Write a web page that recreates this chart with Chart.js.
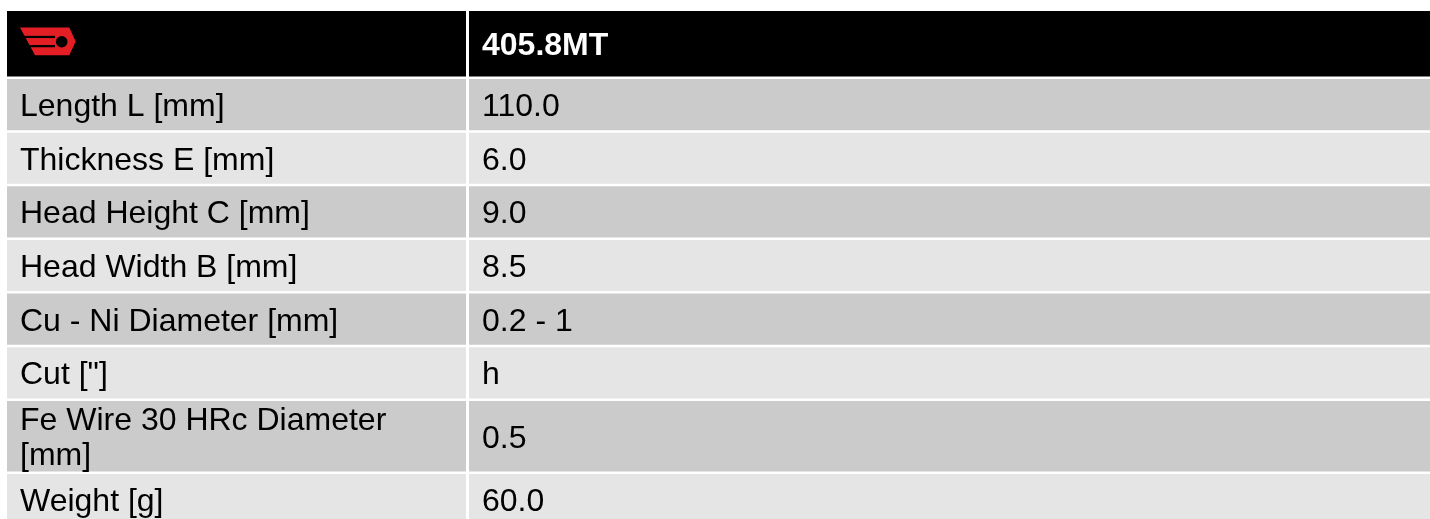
<!DOCTYPE html>
<html>
<head>
<meta charset="utf-8">
<script src="https://cdn.jsdelivr.net/npm/chart.js@4.4.1/dist/chart.umd.min.js"></script>
<style>
  html, body { margin: 0; padding: 0; background: #fff; overflow: hidden; }
  canvas { display: block; }
</style>
</head>
<body>
<canvas id="specChart" width="1430" height="519"></canvas>
<script>
const headerLabel = '405.8MT';
const parameters = [
  'Length L [mm]',
  'Thickness E [mm]',
  'Head Height C [mm]',
  'Head Width B [mm]',
  'Cu - Ni Diameter [mm]',
  'Cut ["]',
  ['Fe Wire 30 HRc Diameter', '[mm]'],
  'Weight [g]'
];
const values = ['110.0', '6.0', '9.0', '8.5', '0.2 - 1', 'h', '0.5', '60.0'];

// layout of the table, in canvas pixels
const W = 1430, H = 519;
const TABLE_LEFT = 7, TABLE_TOP = 11, TABLE_RIGHT = 1445;
const COL_SPLIT = 467.5;
const GAP_X = 3, GAP_Y = 2.5;
const HEADER_PITCH = 68, ROW_PITCH = 53.65, LINE_H = 35;
const PAD_X = 13;
const FONT_SIZE = 32;
const FONT_FAMILY = '"Liberation Sans", Arial, Helvetica, sans-serif';
const ROW_COLORS = ['#cbcbcb', '#e5e5e5'];
const LOGO_RED = '#e31e24';

const rows = [{ texts: [null, headerLabel], color: '#000000', header: true, pitch: HEADER_PITCH }];
parameters.forEach((p, i) => {
  const lines = Array.isArray(p) ? p.length : 1;
  rows.push({
    texts: [p, values[i]],
    color: ROW_COLORS[i % 2],
    header: false,
    pitch: lines > 1 ? lines * LINE_H + 3 : ROW_PITCH
  });
});

let rowTop = TABLE_TOP;
const datasets = rows.map(row => {
  const thickness = row.pitch - GAP_Y;
  const center = rowTop + thickness / 2;
  rowTop += row.pitch;
  return {
    data: [
      { x: [TABLE_LEFT, COL_SPLIT - GAP_X / 2], y: center },
      { x: [COL_SPLIT + GAP_X / 2, TABLE_RIGHT], y: center }
    ],
    texts: row.texts,
    header: row.header,
    backgroundColor: row.color,
    borderWidth: 0,
    inflateAmount: 0,
    barThickness: thickness
  };
});

const drawLogo = (ctx, ox, oy) => {
  ctx.save();
  ctx.translate(ox, oy);
  ctx.fillStyle = LOGO_RED;
  ctx.beginPath();
  ctx.moveTo(0, 0);
  ctx.lineTo(49.3, 0);
  ctx.lineTo(55.7, 13.9);
  ctx.lineTo(49.3, 27.7);
  ctx.lineTo(15, 27.7);
  ctx.closePath();
  ctx.fill();
  ctx.fillStyle = '#000';
  ctx.fillRect(0, 8.3, 35, 2.2);
  ctx.fillRect(0, 17.5, 35, 2.2);
  ctx.beginPath();
  ctx.arc(41.7, 14.2, 5.8, 0, Math.PI * 2);
  ctx.fill();
  ctx.restore();
};

const tableText = {
  id: 'tableText',
  afterDatasetsDraw(chart) {
    const ctx = chart.ctx;
    const capHalf = FONT_SIZE * 0.716 / 2;
    chart.data.datasets.forEach((ds, i) => {
      const meta = chart.getDatasetMeta(i);
      meta.data.forEach((bar, j) => {
        const { x, y, base } = bar.getProps(['x', 'y', 'base'], true);
        const left = Math.min(x, base);
        const text = ds.texts[j];
        if (text === null) {
          drawLogo(ctx, left + PAD_X, y - 16.2);
          return;
        }
        const lines = Array.isArray(text) ? text : [text];
        ctx.save();
        ctx.font = (ds.header ? 'bold ' : '') + FONT_SIZE + 'px ' + FONT_FAMILY;
        ctx.fillStyle = ds.header ? '#ffffff' : '#000000';
        ctx.textAlign = 'left';
        ctx.textBaseline = 'alphabetic';
        const first = y - (lines.length - 1) * LINE_H / 2 + capHalf;
        lines.forEach((line, k) => {
          ctx.fillText(line, left + PAD_X, first + k * LINE_H);
        });
        ctx.restore();
      });
    });
  }
};

new Chart(document.getElementById('specChart'), {
  type: 'bar',
  data: { datasets: datasets },
  options: {
    indexAxis: 'y',
    responsive: false,
    animation: false,
    events: [],
    layout: { padding: 0 },
    plugins: {
      legend: { display: false },
      tooltip: { enabled: false }
    },
    scales: {
      x: { type: 'linear', min: 0, max: W, display: false, offset: false, grace: 0, stacked: false },
      y: { type: 'linear', min: 0, max: H, reverse: true, display: false, offset: false, grace: 0, stacked: true }
    }
  },
  plugins: [tableText]
});
</script>
</body>
</html>
